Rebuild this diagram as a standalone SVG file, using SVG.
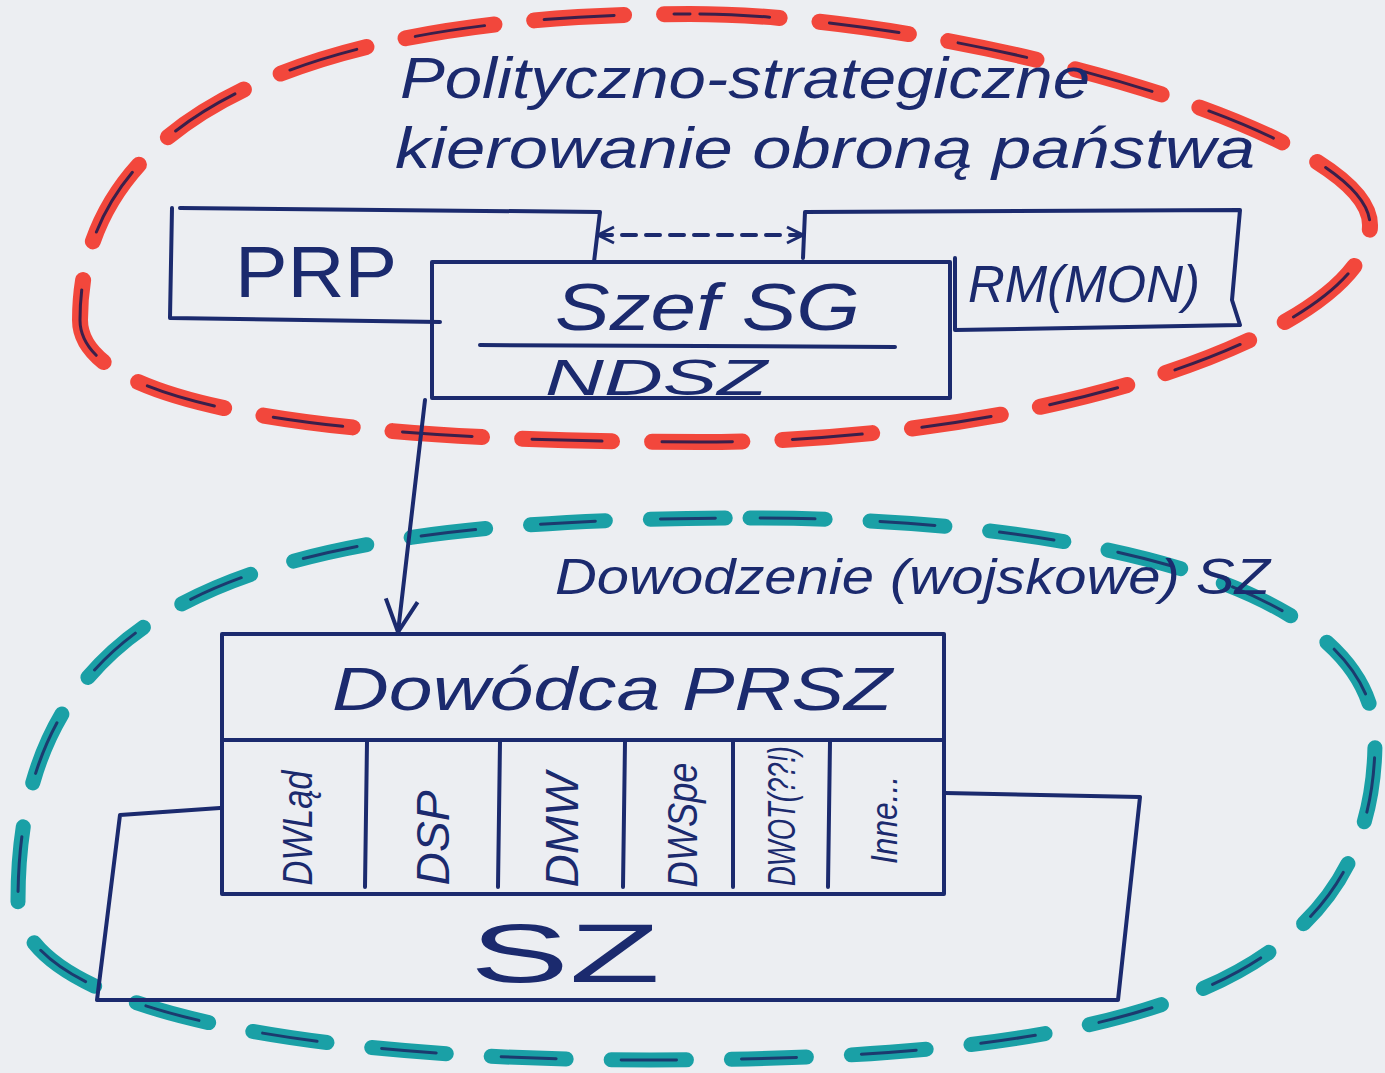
<svg xmlns="http://www.w3.org/2000/svg" width="1385" height="1073" viewBox="0 0 1385 1073">
<defs>
<style>
.ink{fill:none;stroke:#1b2a6e;stroke-width:4;stroke-linecap:round;stroke-linejoin:round}
.t{fill:#1b2a6e;font-family:"Liberation Sans","DejaVu Sans",sans-serif;font-style:italic}
.up{font-style:normal}
.red{fill:none;stroke:#f2473c;stroke-width:16;stroke-dasharray:90 40;stroke-linecap:round}
.redc{fill:none;stroke:#3a1f4a;stroke-width:3;stroke-dasharray:70 60;stroke-dashoffset:-10;stroke-linecap:round}
.teal{fill:none;stroke:#1aa0a6;stroke-width:15;stroke-dasharray:75 45;stroke-linecap:round}
.tealc{fill:none;stroke:#1b3a6e;stroke-width:3;stroke-dasharray:55 65;stroke-dashoffset:-10;stroke-linecap:round}
</style>
<marker id="ah" viewBox="0 0 20 20" refX="18" refY="10" markerWidth="20" markerHeight="20" markerUnits="userSpaceOnUse" orient="auto-start-reverse">
<path d="M2 2 L18 10 L2 18" fill="none" stroke="#1b2a6e" stroke-width="3"/>
</marker>
<marker id="ah2" viewBox="0 0 40 40" refX="36" refY="20" markerWidth="40" markerHeight="40" markerUnits="userSpaceOnUse" orient="auto">
<path d="M4 4 L36 20 L4 36" fill="none" stroke="#1b2a6e" stroke-width="4"/>
</marker>
</defs>
<rect width="1385" height="1073" fill="#eceef2"/>

<g id="zone-political">
<path id="redloop" class="red" d="M690 14 C950 14 1370 130 1370 225 C1370 330 1050 442 700 442 C350 442 80 410 80 320 C80 120 300 14 690 14 Z"/>
<path class="redc" d="M690 14 C950 14 1370 130 1370 225 C1370 330 1050 442 700 442 C350 442 80 410 80 320 C80 120 300 14 690 14 Z"/>
<text class="t" x="400" y="98" font-size="58" textLength="690" lengthAdjust="spacingAndGlyphs">Polityczno-strategiczne</text>
<text class="t" x="395" y="168" font-size="58" textLength="860" lengthAdjust="spacingAndGlyphs">kierowanie obroną państwa</text>
</g>

<g id="zone-military">
<path class="teal" d="M750 518 C1100 518 1375 590 1375 740 C1375 1000 1100 1060 650 1060 C300 1060 18 1010 18 900 C18 600 250 518 750 518 Z"/>
<path class="tealc" d="M750 518 C1100 518 1375 590 1375 740 C1375 1000 1100 1060 650 1060 C300 1060 18 1010 18 900 C18 600 250 518 750 518 Z"/>
<text class="t" x="555" y="594" font-size="50" textLength="715" lengthAdjust="spacingAndGlyphs">Dowodzenie (wojskowe) SZ</text>
</g>

<g id="node-prp">
<path class="ink" d="M180 208 L600 212 L594 262 M172 208 L170 318 L440 322"/>
<text class="t up" x="235" y="297" font-size="72" textLength="162" lengthAdjust="spacingAndGlyphs">PRP</text>
</g>

<g id="node-rm">
<path class="ink" d="M805 212 L1240 210 L1232 300 L1240 325 L955 330 M805 212 L803 258 M955 258 L955 330"/>
<text class="t" x="968" y="302" font-size="52" textLength="232" lengthAdjust="spacingAndGlyphs">RM(MON)</text>
</g>

<g id="node-szef">
<rect class="ink" x="432" y="262" width="518" height="136" fill="#eceef2"/>
<path class="ink" d="M480 345 L895 347"/>
<text class="t" x="555" y="330" font-size="66" textLength="305" lengthAdjust="spacingAndGlyphs">Szef SG</text>
<text class="t" x="545" y="395" font-size="50" textLength="222" lengthAdjust="spacingAndGlyphs">NDSZ</text>
</g>

<g id="node-sz">
<path class="ink" d="M220 808 L120 815 L97 1000 L1118 1000 L1140 797 L945 793"/>
<text class="t up" x="470" y="982" font-size="84" textLength="190" lengthAdjust="spacingAndGlyphs">SZ</text>
</g>

<g id="node-dowodca">
<rect class="ink" x="222" y="634" width="722" height="260" fill="#eceef2"/>
<path class="ink" d="M222 740 L944 740"/>
<text class="t" x="332" y="710" font-size="62" textLength="560" lengthAdjust="spacingAndGlyphs">Dowódca PRSZ</text>
</g>

<g id="node-branches">
<path class="ink" d="M367 742 L365 887 M500 742 L498 887 M625 742 L623 887 M733 742 L733 887 M830 742 L828 887"/>
<text class="t" font-size="42" text-anchor="middle" dominant-baseline="central" textLength="115" lengthAdjust="spacingAndGlyphs" transform="translate(297 828) rotate(-90)">DWLąd</text>
<text class="t" font-size="46" text-anchor="middle" dominant-baseline="central" textLength="95" lengthAdjust="spacingAndGlyphs" transform="translate(433 838) rotate(-90)">DSP</text>
<text class="t" font-size="46" text-anchor="middle" dominant-baseline="central" textLength="115" lengthAdjust="spacingAndGlyphs" transform="translate(562 830) rotate(-90)">DMW</text>
<text class="t" font-size="42" text-anchor="middle" dominant-baseline="central" textLength="125" lengthAdjust="spacingAndGlyphs" transform="translate(682 825) rotate(-90)">DWSpe</text>
<text class="t" font-size="38" text-anchor="middle" dominant-baseline="central" textLength="140" lengthAdjust="spacingAndGlyphs" transform="translate(782 816) rotate(-90)">DWOT(??!)</text>
<text class="t" font-size="36" text-anchor="middle" dominant-baseline="central" textLength="88" lengthAdjust="spacingAndGlyphs" transform="translate(884 820) rotate(-90)">Inne...</text>
</g>

<g id="connectors">
<path class="ink" d="M598 235 L803 235" stroke-width="3" stroke-dasharray="14 10" marker-start="url(#ah)" marker-end="url(#ah)"/>
<path class="ink" d="M425 400 L398 632" marker-end="url(#ah2)"/>
</g>
</svg>
